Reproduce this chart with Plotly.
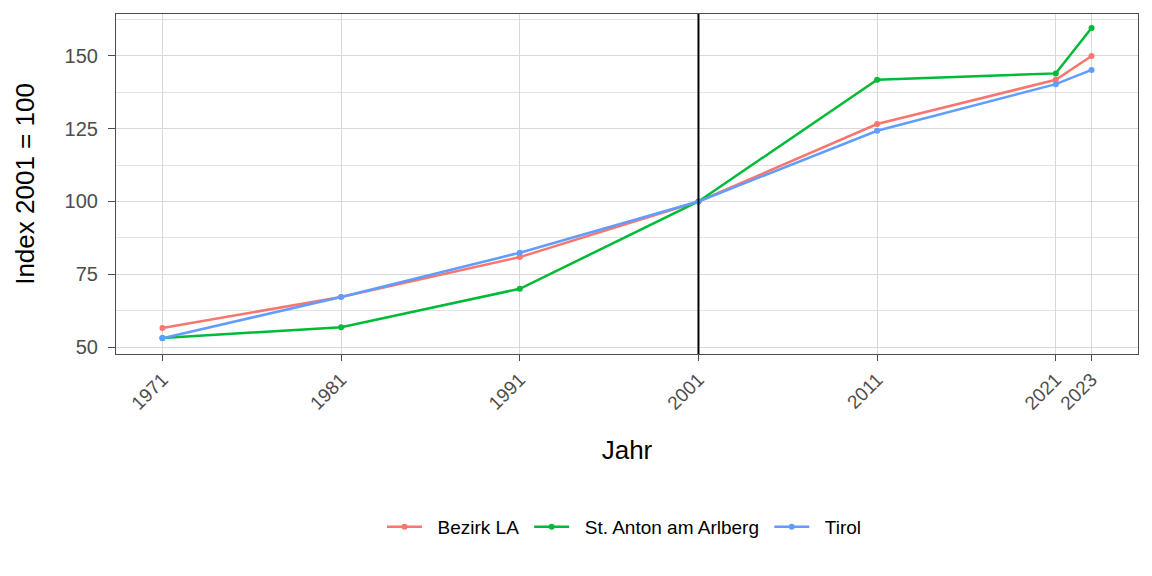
import plotly.graph_objects as go

years = [1971, 1981, 1991, 2001, 2011, 2021, 2023]
bezirk_la = [56.5, 67.2, 80.9, 100, 126.6, 141.8, 150.0]
st_anton = [53.1, 56.8, 70.0, 100, 141.8, 144.0, 159.6]
tirol = [53.0, 67.2, 82.4, 100, 124.3, 140.3, 145.2]

series_names = ["Bezirk LA", "St. Anton am Arlberg", "Tirol"]
series_values = [bezirk_la, st_anton, tirol]
colors = ["#F8766D", "#00BA38", "#619CFF"]

fig = go.Figure()
for name, vals, col in zip(series_names, series_values, colors):
    fig.add_trace(go.Scatter(
        x=years, y=vals, name="\u00a0\u00a0" + name + "\u00a0", mode="lines+markers",
        line=dict(color=col, width=2.5),
        marker=dict(color=col, size=6, symbol="circle"),
    ))

fig.add_shape(type="line", x0=2001, x1=2001, y0=0, y1=1, xref="x", yref="paper",
              line=dict(color="black", width=2), layer="above")

fig.update_layout(
    width=1152, height=576,
    margin=dict(l=116, r=14, t=14, b=222),
    plot_bgcolor="white", paper_bgcolor="white",
    font=dict(family="Liberation Sans, Arial, sans-serif", color="#4d4d4d", size=20),
    showlegend=True,
    legend=dict(orientation="h", x=0.5, xanchor="center", yref="container",
                y=1 - 527 / 576, yanchor="middle",
                font=dict(size=19, color="black"), itemwidth=35,
                traceorder="normal"),
)

fig.update_xaxes(
    range=[1968.4, 2025.6], tickvals=years, ticktext=[str(y) for y in years],
    tickangle=-45, ticks="outside", ticklen=6, tickcolor="#4d4d4d",
    showgrid=True, gridcolor="#d9d9d9", gridwidth=1,
    showline=True, linecolor="#4d4d4d", linewidth=1.2, mirror=True,
    zeroline=False,
    tickfont=dict(size=19, color="#4d4d4d"),
    title=dict(text="Jahr", font=dict(size=26, color="black"), standoff=27),
)
fig.update_yaxes(
    range=[47.6, 164.4], tickvals=[50, 75, 100, 125, 150],
    ticks="outside", ticklen=7, tickcolor="#4d4d4d", ticklabelstandoff=6,
    showgrid=True, gridcolor="#d9d9d9", gridwidth=1,
    minor=dict(tickvals=[62.5, 87.5, 112.5, 137.5, 162.5], showgrid=True,
               gridcolor="#e3e3e3", gridwidth=1, ticks=""),
    showline=True, linecolor="#4d4d4d", linewidth=1.2, mirror=True,
    zeroline=False,
    tickfont=dict(size=20, color="#4d4d4d"),
    title=dict(text="Index 2001 = 100", font=dict(size=26, color="black"), standoff=22),
)

fig.write_html("out.html")
